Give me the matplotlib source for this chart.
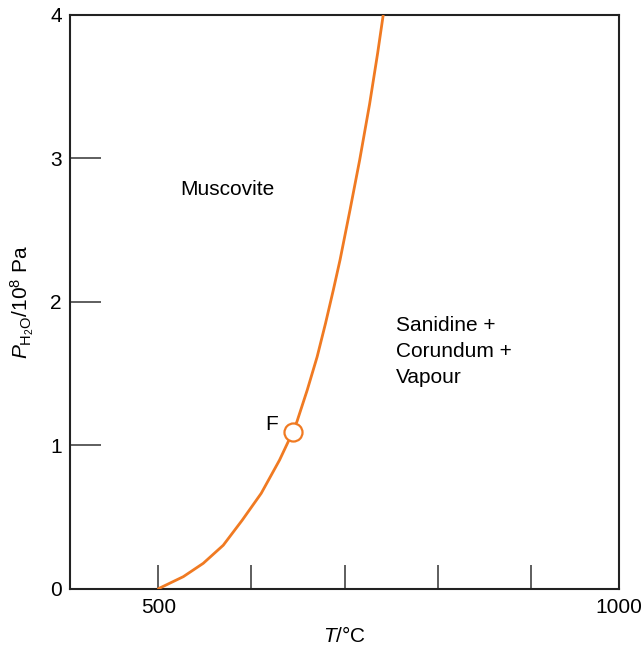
import matplotlib
matplotlib.use("Agg")
import matplotlib.pyplot as plt

plt.rcParams['font.family'] = ['Liberation Sans', 'DejaVu Sans']
plt.rcParams['mathtext.fontset'] = 'custom'
plt.rcParams['mathtext.rm'] = 'Liberation Sans'
plt.rcParams['mathtext.it'] = 'Liberation Sans:italic'

# Phase boundary
T_curve = [500, 526.8, 548.2, 569.7, 590.0, 610.5, 630.2, 640.3, 644.3, 648.9,
           660.0, 670.6, 679.6, 688.0, 695.2, 705.9, 716.3, 727.0, 735.6, 741.6]
P_curve = [0, 0.084, 0.177, 0.303, 0.477, 0.665, 0.897, 1.036, 1.095, 1.165,
           1.386, 1.617, 1.850, 2.083, 2.292, 2.640, 2.989, 3.380, 3.733, 4.0]
# Invariant point F
T_F, P_F = 644.3, 1.095

x_ticks = [500, 600, 700, 800, 900]
x_ticklabels = ['500', '', '', '', '']
x_end_label = '1000'
y_ticks = [0, 1, 2, 3, 4]
y_ticklabels = ['0', '1', '2', '3', '4']

orange = '#F07A22'
fs = 15

fig = plt.figure(figsize=(6.44, 6.51), dpi=100)
ax = fig.add_axes([70/644, 62.3/651, 549/644, 573.7/651])

ax.plot(T_curve, P_curve, color=orange, lw=2.0, solid_joinstyle='round',
        solid_capstyle='round', zorder=3)
ax.plot([T_F], [P_F], marker='o', ms=13, mfc='white', mec=orange, mew=1.6, zorder=4)

ax.set_xlim(405, 995)
ax.set_ylim(0, 4)
ax.set_xticks(x_ticks)
ax.set_xticklabels(x_ticklabels)
ax.set_yticks(y_ticks)
ax.set_yticklabels(y_ticklabels)

ax.tick_params(axis='x', direction='in', length=17, width=1.1, color='#333333',
               labelsize=fs, pad=7)
ax.tick_params(axis='y', direction='in', length=22, width=1.1, color='#333333',
               labelsize=fs, pad=6)
for s in ax.spines.values():
    s.set_linewidth(1.5)
    s.set_color('#222222')

# label at right end of the T axis
ax.annotate(x_end_label, xy=(1.0, 0), xycoords='axes fraction',
            xytext=(0, -7), textcoords='offset points',
            ha='center', va='top', fontsize=fs)

ax.text(524, 2.78, 'Muscovite', fontsize=fs, ha='left', va='center')
ax.text(755, 1.654, 'Sanidine +\nCorundum +\nVapour', fontsize=fs, ha='left',
        va='center', linespacing=1.45)
ax.text(629, 1.142, 'F', fontsize=fs, ha='right', va='center')

ax.set_xlabel(r'$T$/°C', fontsize=fs, labelpad=6)
ax.set_ylabel(r'$P_{\mathrm{H_2O}}$/10$^8$ Pa', fontsize=fs, labelpad=10)

fig.savefig('out.png', dpi=100)
